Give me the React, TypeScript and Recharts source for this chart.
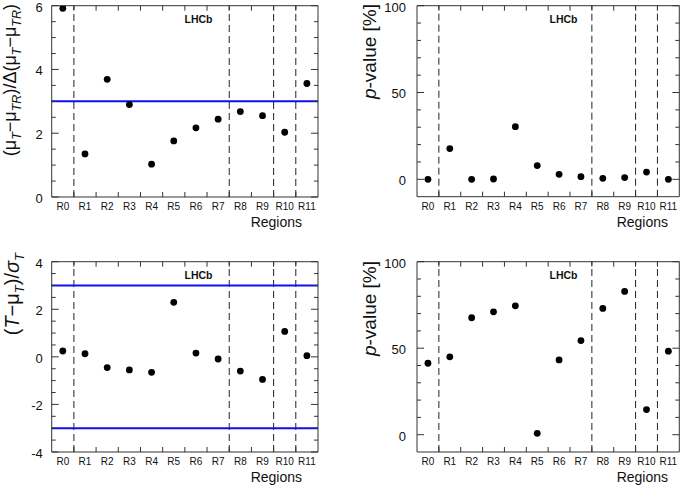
import React from 'react';
import { ScatterChart, Scatter, XAxis, YAxis, ReferenceLine, ReferenceArea } from 'recharts';

const categories = ['R0', 'R1', 'R2', 'R3', 'R4', 'R5', 'R6', 'R7', 'R8', 'R9', 'R10', 'R11'];
const categoryIndex = [0, 1, 2, 3, 4, 5, 6, 7, 8, 9, 10, 11];
const categoryBoundaries = [0.5, 1.5, 2.5, 3.5, 4.5, 5.5, 6.5, 7.5, 8.5, 9.5, 10.5];
const dashedBoundaries = [0.5, 7.5, 9.5, 10.5];

// top-left: (mu_T - mu_TR)/Delta(mu_T - mu_TR)
const muDiffSignificance = [5.92, 1.35, 3.69, 2.9, 1.03, 1.76, 2.17, 2.44, 2.68, 2.55, 2.03, 3.56];
// top-right: p-value [%]
const muDiffPValue = [0, 17.7, 0, 0.2, 30.3, 7.9, 2.9, 1.5, 0.6, 1.0, 4.2, 0];
// bottom-left: (T - mu_T)/sigma_T
const pullValues = [0.245, 0.13, -0.45, -0.55, -0.65, 2.29, 0.16, -0.09, -0.6, -0.95, 1.07, 0.05];
// bottom-right: p-value [%]
const pullPValue = [41.3, 45.0, 67.6, 71.0, 74.5, 0.8, 43.2, 54.4, 73.0, 82.8, 14.5, 48.3];

const sigDomain = [0, 6];
const sigMajor = [0, 2, 4, 6];
const sigMinor = [0.5, 1, 1.5, 2.5, 3, 3.5, 4.5, 5, 5.5];
const sigLines = [3];

const pDomain = [-10, 100];
const pMajor = [0, 50, 100];
const pMinor = [10, 20, 30, 40, 60, 70, 80, 90];

const pullDomain = [-4, 4];
const pullMajor = [-4, -2, 0, 2, 4];
const pullMinor = [-3.5, -3, -2.5, -1.5, -1, -0.5, 0.5, 1, 1.5, 2.5, 3, 3.5];
const pullLines = [-3, 3];

const W = 685;
const H = 488;
const FONT = '"Liberation Sans", Arial, Helvetica, sans-serif';
const FRAME = '#333';

type PanelProps = {
  values: number[];
  domain: number[];
  major: number[];
  minor: number[];
  blueLines: number[];
  L: number;
  R: number;
  T: number;
  B: number;
  labelGap: number;
};

const Dot = (props: any) => {
  if (props.cx == null || props.cy == null) return null;
  return <circle cx={props.cx} cy={props.cy} r={3.4} fill="#000" />;
};

const xTicksAll = [...categoryIndex, ...categoryBoundaries].sort((a, b) => a - b);

function Panel({ values, domain, major, minor, blueLines, L, R, T, B, labelGap }: PanelProps) {
  const data = categoryIndex.map((i) => ({ x: i, y: values[i] }));
  const xDom: [number, number] = [-0.5, 11.5];
  const yDom: [number, number] = [domain[0], domain[1]];
  const yTicksAll = [...major, ...minor].sort((a, b) => a - b);

  const XTick = (p: any) => {
    const v = p.payload?.value;
    const cx = p.x;
    if (Number.isInteger(v)) {
      return (
        <text x={cx} y={p.y} dy="0.71em" textAnchor="middle" fill="#111"
          style={{ fontSize: 10, fontFamily: FONT }}>
          {categories[v]}
        </text>
      );
    }
    return (
      <g>
        <line x1={cx} x2={cx} y1={B} y2={B - 5} stroke={FRAME} strokeWidth={1} />
        <line x1={cx} x2={cx} y1={T} y2={T + 5} stroke={FRAME} strokeWidth={1} />
      </g>
    );
  };

  const YTick = (p: any) => {
    const v = p.payload?.value;
    const cy = p.y;
    const isMajor = major.includes(v);
    const len = isMajor ? 7 : 4;
    return (
      <g>
        <line x1={L} x2={L + len} y1={cy} y2={cy} stroke={FRAME} strokeWidth={1} />
        <line x1={R - len} x2={R} y1={cy} y2={cy} stroke={FRAME} strokeWidth={1} />
        {isMajor && (
          <text x={p.x} y={cy} dy="0.45em" textAnchor="end" fill="#111"
            style={{ fontSize: 13, fontFamily: FONT }}>
            {v}
          </text>
        )}
      </g>
    );
  };

  return (
    <div style={{ position: 'absolute', left: 0, top: 0 }}>
      <ScatterChart
        width={W}
        height={H}
        margin={{ left: L, top: T, right: W - R, bottom: H - B }}
        style={{ fontFamily: FONT }}
      >
        <XAxis
          xAxisId="x"
          dataKey="x"
          type="number"
          orientation="bottom"
          domain={xDom}
          allowDataOverflow
          ticks={xTicksAll}
          interval={0}
          height={0.01}
          tickLine={false}
          tickSize={0}
          tickMargin={6}
          axisLine={false}
          tick={<XTick />}
        />
        <YAxis
          yAxisId="y"
          dataKey="y"
          type="number"
          orientation="left"
          domain={yDom}
          allowDataOverflow
          ticks={yTicksAll}
          interval={0}
          width={0.01}
          tickLine={false}
          tickSize={0}
          tickMargin={labelGap}
          axisLine={false}
          tick={<YTick />}
        />
        <ReferenceArea
          xAxisId="x"
          yAxisId="y"
          x1={xDom[0]}
          x2={xDom[1]}
          y1={yDom[0]}
          y2={yDom[1]}
          fill="none"
          fillOpacity={0}
          stroke={FRAME}
          strokeWidth={1}
          strokeOpacity={1}
        />
        {dashedBoundaries.map((b) => (
          <ReferenceLine
            key={'d' + b}
            xAxisId="x"
            yAxisId="y"
            x={b}
            stroke="#222"
            strokeWidth={1}
            strokeDasharray="7 4"
          />
        ))}
        {blueLines.map((v) => (
          <ReferenceLine
            key={'b' + v}
            xAxisId="x"
            yAxisId="y"
            y={v}
            stroke="#1010ee"
            strokeWidth={2}
          />
        ))}
        <Scatter
          xAxisId="x"
          yAxisId="y"
          data={data}
          dataKey="y"
          shape={<Dot />}
          isAnimationActive={false}
        />
      </ScatterChart>
    </div>
  );
}

const SUB = 12.5;

function Titles() {
  const regionsStyle = { fontSize: 14, fill: '#111', fontFamily: FONT };
  const lhcbStyle = { fontSize: 10.5, fontWeight: 700, fill: '#111', fontFamily: FONT };
  const titleStyle = { fontSize: 18, fill: '#111', fontFamily: FONT };
  return (
    <svg
      width={W}
      height={H}
      style={{ position: 'absolute', left: 0, top: 0, pointerEvents: 'none' }}
    >
      <text x={302} y={227} textAnchor="end" style={regionsStyle}>Regions</text>
      <text x={668} y={227} textAnchor="end" style={regionsStyle}>Regions</text>
      <text x={302} y={482} textAnchor="end" style={regionsStyle}>Regions</text>
      <text x={668} y={482} textAnchor="end" style={regionsStyle}>Regions</text>

      <text x={198.5} y={22.5} textAnchor="middle" style={lhcbStyle}>LHCb</text>
      <text x={563.5} y={22.5} textAnchor="middle" style={lhcbStyle}>LHCb</text>
      <text x={198.5} y={278.5} textAnchor="middle" style={lhcbStyle}>LHCb</text>
      <text x={563.5} y={278.5} textAnchor="middle" style={lhcbStyle}>LHCb</text>

      <text transform="translate(16,4) rotate(-90)" textAnchor="end" style={titleStyle}>
        <tspan>(μ</tspan>
        <tspan fontSize={SUB} dy={5} fontStyle="italic">T</tspan>
        <tspan dy={-5}>−μ</tspan>
        <tspan fontSize={SUB} dy={5} fontStyle="italic">TR</tspan>
        <tspan dy={-5}>)/Δ(μ</tspan>
        <tspan fontSize={SUB} dy={5} fontStyle="italic">T</tspan>
        <tspan dy={-5}>−μ</tspan>
        <tspan fontSize={SUB} dy={5} fontStyle="italic">TR</tspan>
        <tspan dy={-5}>)</tspan>
      </text>

      <text transform="translate(376,4) rotate(-90)" textAnchor="end" style={{ ...titleStyle, fontSize: 19 }}>
        <tspan fontStyle="italic">p</tspan>
        <tspan>-value [%]</tspan>
      </text>

      <text transform="translate(19,253) rotate(-90)" textAnchor="end" style={{ ...titleStyle, fontSize: 20 }}>
        <tspan>(</tspan>
        <tspan fontStyle="italic">T</tspan>
        <tspan>−μ</tspan>
        <tspan fontSize={13} dy={5} fontStyle="italic">T</tspan>
        <tspan dy={-5}>)/</tspan>
        <tspan fontStyle="italic">σ</tspan>
        <tspan fontSize={13} dy={5} fontStyle="italic">T</tspan>
      </text>

      <text transform="translate(376,261) rotate(-90)" textAnchor="end" style={{ ...titleStyle, fontSize: 19 }}>
        <tspan fontStyle="italic">p</tspan>
        <tspan>-value [%]</tspan>
      </text>
    </svg>
  );
}

export default function App() {
  return (
    <div
      style={{
        position: 'absolute',
        left: 0,
        top: 0,
        width: W,
        height: H,
        background: '#fff',
        fontFamily: FONT,
      }}
    >
      <Panel values={muDiffSignificance} domain={sigDomain} major={sigMajor} minor={sigMinor}
        blueLines={sigLines} L={51.7} R={318} T={5.7} B={197} labelGap={9} />
      <Panel values={muDiffPValue} domain={pDomain} major={pMajor} minor={pMinor}
        blueLines={[]} L={417} R={679.3} T={5.7} B={196.7} labelGap={11} />
      <Panel values={pullValues} domain={pullDomain} major={pullMajor} minor={pullMinor}
        blueLines={pullLines} L={51.7} R={318} T={261.7} B={452} labelGap={9} />
      <Panel values={pullPValue} domain={pDomain} major={pMajor} minor={pMinor}
        blueLines={[]} L={417} R={679.3} T={261.7} B={452} labelGap={11} />
      <Titles />
    </div>
  );
}
